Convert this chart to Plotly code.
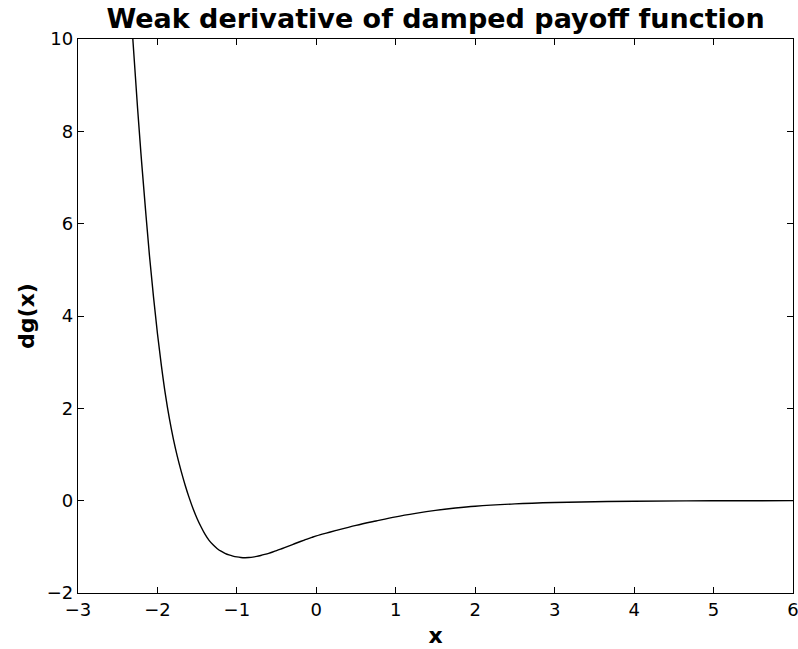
import plotly.graph_objects as go

# Curve samples
x_vals = [-2.31, -2.25, -2.20, -2.15, -2.10, -2.05, -2.00, -1.95, -1.90, -1.85,
          -1.80, -1.75, -1.70, -1.65, -1.60, -1.55, -1.50, -1.45, -1.40, -1.35,
          -1.30, -1.25, -1.20, -1.15, -1.10, -1.05, -1.00, -0.95, -0.90, -0.85,
          -0.80, -0.75, -0.70, -0.65, -0.60, -0.55, -0.50, -0.45, -0.40, -0.35,
          -0.30, -0.25, -0.20, -0.15, -0.10, -0.05, 0.00, 0.125, 0.25, 0.50,
          0.75, 1.00, 1.25, 1.50, 1.75, 2.00, 2.50, 3.00, 3.50, 4.00,
          5.00, 6.00]
y_vals = [10.0, 8.50, 7.35, 6.30, 5.30, 4.42, 3.62, 2.92, 2.30, 1.78,
          1.34, 0.96, 0.63, 0.33, 0.06, -0.18, -0.39, -0.57, -0.73, -0.86,
          -0.955, -1.035, -1.095, -1.140, -1.175, -1.200, -1.218, -1.230, -1.235, -1.232,
          -1.224, -1.208, -1.188, -1.165, -1.140, -1.112, -1.082, -1.050, -1.017, -0.983,
          -0.950, -0.917, -0.884, -0.852, -0.821, -0.792, -0.764, -0.703, -0.645, -0.535,
          -0.44, -0.35, -0.275, -0.21, -0.16, -0.12, -0.07, -0.04, -0.022, -0.012,
          -0.003, 0.0]

x_ticks = [-3, -2, -1, 0, 1, 2, 3, 4, 5, 6]
y_ticks = [-2, 0, 2, 4, 6, 8, 10]

FONT = "DejaVu Sans"

fig = go.Figure()
fig.add_trace(go.Scatter(
    x=x_vals, y=y_vals, mode="lines",
    line=dict(color="black", width=1.4, shape="spline", smoothing=1.0),
    hoverinfo="skip", showlegend=False, cliponaxis=True,
))

axis_common = dict(
    showgrid=False, zeroline=False, automargin=False,
    showline=True, linecolor="black", linewidth=1.3, mirror="ticks",
    ticks="inside", ticklen=6, tickwidth=1, tickcolor="black",
    tickfont=dict(family=FONT, size=18, color="black"),
    ticklabeloverflow="allow",
)

fig.update_layout(
    width=798, height=649,
    margin=dict(l=78, r=5, t=39, b=56),
    paper_bgcolor="white", plot_bgcolor="white",
    title=dict(
        text="<b>Weak derivative of damped payoff function</b>",
        font=dict(family=FONT, size=27, color="black"),
        x=0.5, xref="paper", xanchor="center",
        y=1 - 19 / 649, yref="container", yanchor="middle",
    ),
    xaxis=dict(
        range=[-3, 6], tickvals=x_ticks,
        title=dict(text="<b>x</b>", font=dict(family=FONT, size=22, color="black"), standoff=8),
        **axis_common,
    ),
    yaxis=dict(
        range=[-2, 10], tickvals=y_ticks,
        title=dict(text="<b>dg(x)</b>", font=dict(family=FONT, size=22, color="black"), standoff=6),
        **axis_common,
    ),
)

fig.write_html("out.html")
